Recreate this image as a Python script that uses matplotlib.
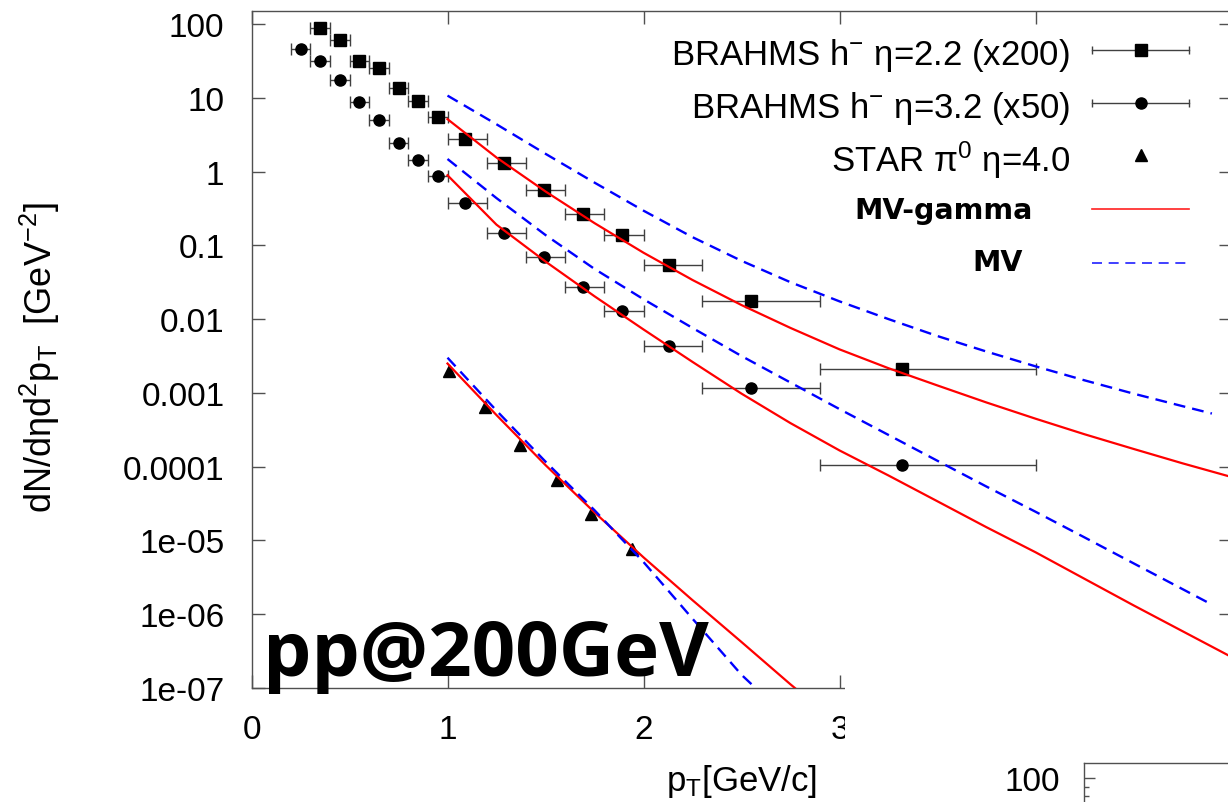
import numpy as np
import matplotlib
matplotlib.use("Agg")
import matplotlib.pyplot as plt
from matplotlib.lines import Line2D
from matplotlib.patches import Rectangle
from matplotlib.ticker import FixedLocator, FixedFormatter, NullLocator, LogLocator, NullFormatter

plt.rcParams['font.family'] = ['Liberation Sans', 'DejaVu Sans']
plt.rcParams['mathtext.fontset'] = 'custom'
plt.rcParams['mathtext.rm'] = 'Liberation Sans'
plt.rcParams['mathtext.it'] = 'Liberation Sans:italic'
plt.rcParams['mathtext.bf'] = 'Liberation Sans:bold'

# BRAHMS h- eta=2.2 (x200)
pt_22 = [0.35, 0.45, 0.55, 0.65, 0.75, 0.85, 0.95, 1.09, 1.29, 1.49, 1.69, 1.89, 2.13, 2.55, 3.32]
lo_22 = [0.30, 0.40, 0.50, 0.60, 0.70, 0.80, 0.90, 1.00, 1.20, 1.40, 1.60, 1.80, 2.00, 2.30, 2.90]
hi_22 = [0.40, 0.50, 0.60, 0.70, 0.80, 0.90, 1.00, 1.20, 1.40, 1.60, 1.80, 2.00, 2.30, 2.90, 4.00]
y_22 = [88, 61, 31.6, 25.4, 13.6, 9.1, 5.5, 2.78, 1.30, 0.567, 0.268, 0.140, 0.0548, 0.0175, 0.0021]

# BRAHMS h- eta=3.2 (x50)
pt_32 = [0.25, 0.35, 0.45, 0.55, 0.65, 0.75, 0.85, 0.95, 1.09, 1.29, 1.49, 1.69, 1.89, 2.13, 2.55, 3.32]
lo_32 = [0.20, 0.30, 0.40, 0.50, 0.60, 0.70, 0.80, 0.90, 1.00, 1.20, 1.40, 1.60, 1.80, 2.00, 2.30, 2.90]
hi_32 = [0.30, 0.40, 0.50, 0.60, 0.70, 0.80, 0.90, 1.00, 1.20, 1.40, 1.60, 1.80, 2.00, 2.30, 2.90, 4.00]
y_32 = [46, 31.6, 17.5, 8.8, 5.0, 2.45, 1.45, 0.88, 0.378, 0.147, 0.0697, 0.0273, 0.0129, 0.0043, 0.00117, 0.000105]

# STAR pi0 eta=4.0
pt_40 = [1.01, 1.19, 1.37, 1.56, 1.73, 1.94]
y_40 = [1.97e-3, 6.5e-4, 1.97e-4, 6.6e-5, 2.27e-5, 7.7e-6]

# MV-gamma curves
pt_gam = [1.0, 1.25, 1.5, 1.75, 2.0, 2.25, 2.5, 2.75, 3.0, 3.25, 3.5, 3.75, 4.0, 4.25, 4.5, 4.75, 5.0]
mvg_eta22 = [5.13, 1.55, 0.537, 0.200, 0.0794, 0.0339, 0.0155, 0.00759, 0.00389, 0.00216,
             0.00126, 7.41e-4, 4.47e-4, 2.75e-4, 1.74e-4, 1.11e-4, 7.24e-5]
mvg_eta32 = [0.891, 0.1905, 0.0603, 0.0204, 0.00724, 0.00263, 9.77e-4, 3.89e-4, 1.66e-4, 7.59e-5,
             3.39e-5, 1.51e-5, 6.92e-6, 3.02e-6, 1.32e-6, 5.89e-7, 2.63e-7]
pt_gam_40 = [1.0, 1.25, 1.5, 1.75, 2.0, 2.25, 2.5, 2.75, 2.8]
mvg_eta40 = [2.5e-3, 5.0e-4, 1.05e-4, 2.4e-5, 5.9e-6, 1.55e-6, 4.2e-7, 1.12e-7, 8.7e-8]

# MV curves
pt_mv = [1.0, 1.25, 1.5, 1.75, 2.0, 2.25, 2.5, 2.75, 3.0, 3.25, 3.5, 3.75, 4.0, 4.25, 4.5, 4.75, 4.9]
mv_eta22 = [10.7, 4.37, 1.74, 0.708, 0.295, 0.129, 0.0617, 0.0316, 0.0174, 0.0100,
            0.00589, 0.00363, 0.00229, 0.00148, 9.77e-4, 6.61e-4, 5.25e-4]
mv_eta32 = [1.479, 0.4365, 0.138, 0.0479, 0.0186, 0.00759, 0.00316, 0.00138, 6.03e-4, 2.69e-4,
            1.20e-4, 5.37e-5, 2.45e-5, 1.10e-5, 4.90e-6, 2.19e-6, 1.35e-6]
pt_mv_40 = [1.0, 1.25, 1.5, 1.75, 2.0, 2.25, 2.5, 2.6]
mv_eta40 = [3.0e-3, 5.75e-4, 1.17e-4, 2.57e-5, 5.1e-6, 8.7e-7, 1.51e-7, 8.5e-8]

x_ticks = [0, 1, 2, 3, 4, 5]
x_labels = ['0', '1', '2', '3', '', '']
y_ticks = [1e2, 1e1, 1, 1e-1, 1e-2, 1e-3, 1e-4, 1e-5, 1e-6, 1e-7]
y_labels = ['100', '10', '1', '0.1', '0.01', '0.001', '0.0001', '1e-05', '1e-06', '1e-07']

W, H = 1228, 803
AXCOL = '#505050'
ERRCOL = '#404040'

fig = plt.figure(figsize=(12.28, 8.03), dpi=100)
ax = fig.add_axes([251.5 / W, 1 - 689 / H, 980 / W, 677 / H])
ax.set_yscale('log')
ax.set_xlim(0, 5)
ax.set_ylim(1e-7, 150)


def brahms(pt, lo, hi, y, marker):
    pt = np.array(pt)
    xerr = [pt - np.array(lo), np.array(hi) - pt]
    ax.errorbar(pt, y, xerr=xerr, fmt=marker, color='black', ms=8,
                ecolor=ERRCOL, elinewidth=1.0, capsize=4, capthick=1.0, zorder=3)


brahms(pt_22, lo_22, hi_22, y_22, 's')
brahms(pt_32, lo_32, hi_32, y_32, 'o')
ax.plot(pt_40, y_40, '^', color='black', ms=8, zorder=3)

for pt, y in [(pt_gam, mvg_eta22), (pt_gam, mvg_eta32), (pt_gam_40, mvg_eta40)]:
    ax.plot(pt, y, color='#ff0000', lw=1.6, zorder=4)
for pt, y in [(pt_mv, mv_eta22), (pt_mv, mv_eta32), (pt_mv_40, mv_eta40)]:
    ax.plot(pt, y, color='#0000ff', lw=1.7, ls=(0, (5, 3)), zorder=4)

ax.xaxis.set_major_locator(FixedLocator(x_ticks))
ax.xaxis.set_major_formatter(FixedFormatter(x_labels))
ax.yaxis.set_major_locator(FixedLocator(y_ticks))
ax.yaxis.set_major_formatter(FixedFormatter(y_labels))
ax.xaxis.set_minor_locator(NullLocator())
ax.yaxis.set_minor_locator(NullLocator())
ax.tick_params(which='major', direction='in', length=9.5, width=1.0, color=AXCOL,
               top=True, right=True, labelsize=24)
ax.tick_params(axis='x', pad=18.5)
ax.tick_params(axis='y', pad=19.5)
for s in ax.spines.values():
    s.set_color(AXCOL)
    s.set_linewidth(1.0)

ax.set_xlabel('p$_{\\mathrm{T}}$[GeV/c]', fontsize=25)
ax.xaxis.set_label_coords(0.5, -0.110)
ax.set_ylabel('dN/dηd$^{2}$p$_{\\mathrm{T}}$  [GeV$^{-2}$]', fontsize=26)
ax.yaxis.set_label_coords(-0.1934, 0.49)

fig.text(263 / W, 1 - 676 / H, 'pp@200GeV', fontsize=55, fontweight='bold',
         family=['Open Sans', 'DejaVu Sans'], ha='left', va='baseline', zorder=6)

# hand-made key, gnuplot style
def key_text(x, y, s, **kw):
    fig.text(x / W, 1 - y / H, s, ha='right', va='baseline', **kw)


def key_errbar(y, marker):
    yy = [1 - y / H] * 2
    fig.add_artist(Line2D([1092 / W, 1189 / W], yy, color=ERRCOL, lw=1.0))
    fig.add_artist(Line2D([1092 / W, 1189 / W], yy, ls='none', marker='|', ms=6,
                          mew=1.0, color=ERRCOL))
    fig.add_artist(Line2D([1141 / W], yy[:1], ls='none', marker=marker, ms=8, color='black'))


key_text(1070, 65, 'BRAHMS h$^{-}$ η=2.2 (x200)', fontsize=25)
key_errbar(51, 's')
key_text(1070, 118, 'BRAHMS h$^{-}$ η=3.2 (x50)', fontsize=25)
key_errbar(104, 'o')
key_text(1070, 172, 'STAR π$^{0}$ η=4.0', fontsize=25)
fig.add_artist(Line2D([1141 / W], [1 - 156 / H], ls='none', marker='^', ms=8, color='black'))
key_text(1033, 219, 'MV-gamma', fontsize=20.5, fontweight='bold', family=['DejaVu Sans'])
fig.add_artist(Line2D([1092 / W, 1189 / W], [1 - 210 / H] * 2, color='#ff2020', lw=1.2))
key_text(1023, 271, 'MV', fontsize=20.5, fontweight='bold', family=['DejaVu Sans'])
fig.add_artist(Line2D([1092 / W, 1189 / W], [1 - 264 / H] * 2, color='#2020ff', lw=1.2,
                      ls=(0, (6, 4))))

# lower right corner: white cover and the edge of the next plot
fig.add_artist(Rectangle((845 / W, 0), 1 - 845 / W + 0.01, (H - 672) / H,
                         transform=fig.transFigure, facecolor='white',
                         edgecolor='none', zorder=5))
ax2 = fig.add_axes([1084 / W, (H - 764 - 400) / H, 0.2, 400 / H])
ax2.set_zorder(6)
ax2.set_yscale('log')
ax2.set_ylim(0.94, 120)
ax2.set_xlim(0, 1)
ax2.xaxis.set_visible(False)
ax2.yaxis.set_major_locator(FixedLocator([100]))
ax2.yaxis.set_major_formatter(FixedFormatter(['100']))
ax2.yaxis.set_minor_locator(LogLocator(subs=np.arange(2, 10)))
ax2.yaxis.set_minor_formatter(NullFormatter())
ax2.tick_params(which='major', direction='in', length=8, width=1.0, color=AXCOL,
                labelsize=24, pad=17)
ax2.tick_params(which='minor', direction='in', length=3.6, width=1.0, color=AXCOL)
for s in ax2.spines.values():
    s.set_color(AXCOL)
    s.set_linewidth(1.0)

fig.savefig('out.png', dpi=100)
